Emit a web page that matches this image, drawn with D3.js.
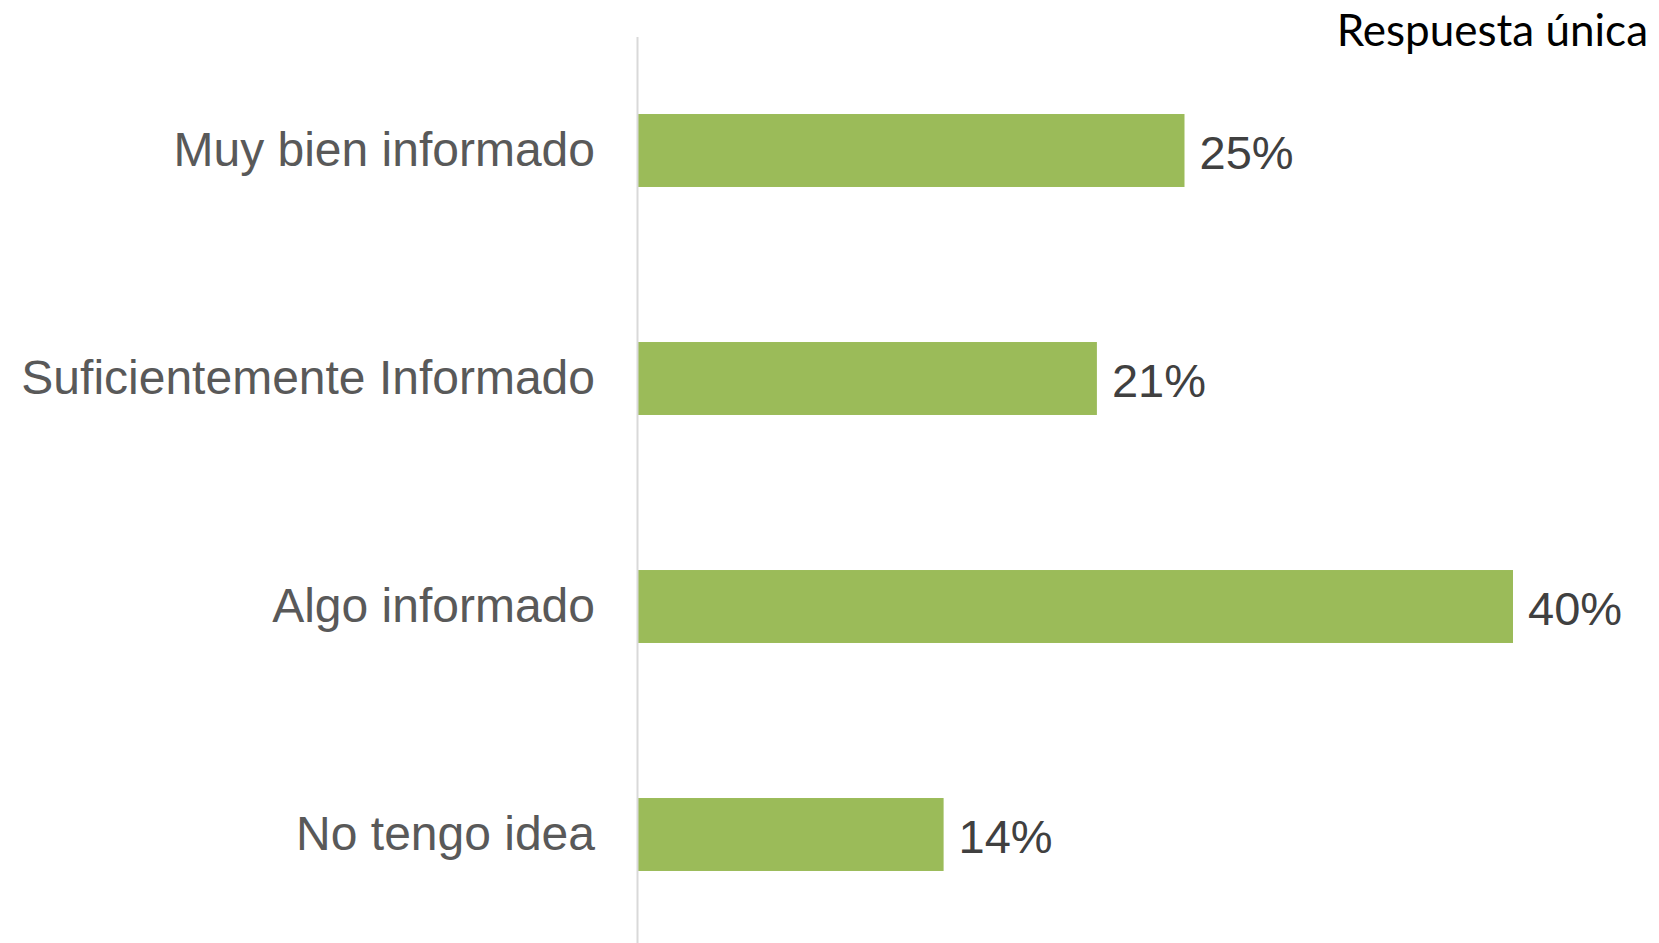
<!DOCTYPE html>
<html>
<head>
<meta charset="utf-8">
<script src="https://cdn.jsdelivr.net/npm/d3@7"></script>
<style>
  html, body { margin: 0; padding: 0; background: #ffffff; }
  svg { display: block; }
</style>
</head>
<body>
<svg id="chart" width="1659" height="943"></svg>
<script>
// Survey answers and their shares (%)
const categories = ["Muy bien informado", "Suficientemente Informado", "Algo informado", "No tengo idea"];
const values = [25, 21, 40, 14];
const valueLabels = ["25%", "21%", "40%", "14%"];
const noteText = "Respuesta única";

const svg = d3.select("#chart");

const axisX = 637;

const x = d3.scaleLinear()
  .domain([0, 40])
  .range([axisX, 1513]);

const y = d3.scaleBand()
  .domain(categories)
  .range([36.5, 948.5])
  .paddingInner(0.68)
  .paddingOuter(0.34);

// Bars
svg.append("g")
  .selectAll("rect")
  .data(values)
  .join("rect")
  .attr("x", x(0))
  .attr("y", (d, i) => y(categories[i]))
  .attr("width", d => x(d) - x(0))
  .attr("height", y.bandwidth())
  .attr("fill", "#9BBB59");

// Category axis with a light vertical baseline
const yAxis = svg.append("g")
  .attr("transform", `translate(${axisX},0)`)
  .call(d3.axisLeft(y).tickSize(0).tickSizeOuter(0).tickPadding(42));

yAxis.select(".domain")
  .attr("stroke", "#D9D9D9")
  .attr("stroke-width", 2);

yAxis.selectAll(".tick text")
  .attr("font-family", "'Liberation Sans', Arial, sans-serif")
  .attr("font-size", 48)
  .attr("fill", "#595959");

// Value labels
svg.append("g")
  .selectAll("text")
  .data(values)
  .join("text")
  .attr("x", d => x(d) + 15)
  .attr("y", (d, i) => y(categories[i]) + y.bandwidth() / 2 + 2)
  .attr("dy", "0.35em")
  .attr("font-family", "'Liberation Sans', Arial, sans-serif")
  .attr("font-size", 47)
  .attr("fill", "#404040")
  .text((d, i) => valueLabels[i]);

// Note in the top-right corner
svg.append("text")
  .attr("x", 1648)
  .attr("y", 46)
  .attr("text-anchor", "end")
  .attr("font-family", "Lato, 'Open Sans', sans-serif")
  .attr("font-size", 44)
  .attr("fill", "#000000")
  .text(noteText);
</script>
</body>
</html>
